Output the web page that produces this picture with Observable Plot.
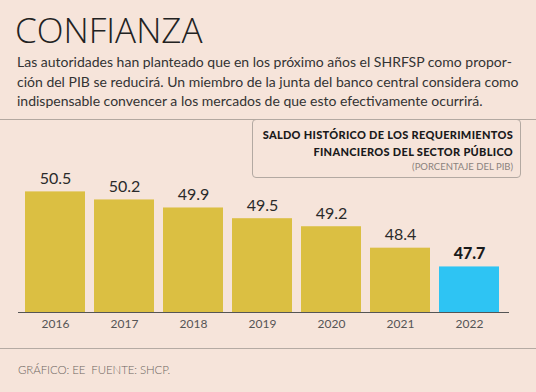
<!DOCTYPE html>
<html>
<head>
<meta charset="utf-8">
<script src="https://cdn.jsdelivr.net/npm/d3@7"></script>
<script src="https://cdn.jsdelivr.net/npm/@observablehq/plot@0.6"></script>
<style>
  html, body { margin: 0; padding: 0; background: #f6e4da; }
  #wrap { position: relative; width: 536px; height: 392px; background: #f6e4da; overflow: hidden; font-family: Lato, "Open Sans", sans-serif; }
  #title { position: absolute; left: 15px; top: 6px; font-family: "Open Sans", sans-serif; font-size: 35px; font-weight: 300; color: #222; letter-spacing: 0px; line-height: 48px; }
  #sub { position: absolute; left: 17px; top: 52px; width: 510px; font-size: 14px; line-height: 19.5px; color: #333; font-weight: 400; }
  #sep1 { position: absolute; left: 0; top: 119px; width: 536px; height: 1px; background: #b3a8a0; }
  #chart { position: absolute; left: 0; top: 118px; }
  #legend { position: absolute; left: 252px; top: 119px; width: 269px; height: 59px; border: 1px solid #b3a9a2; border-radius: 4px; text-align: right; box-sizing: border-box; padding: 7px 7px 0 0; }
  #legend .t { font-size: 11px; font-weight: 900; color: #1a1a1a; line-height: 16.5px; letter-spacing: 0.3px; }
  #legend .s { font-size: 9.5px; color: #8a827d; line-height: 14px; }
  #sep2 { position: absolute; left: 0; top: 348px; width: 536px; height: 1px; background: #b5aaa3; }
  #foot { position: absolute; left: 18px; top: 363px; font-size: 11.5px; color: #6d6560; font-weight: 300; letter-spacing: -0.1px; }
</style>
</head>
<body>
<div id="wrap">
  <div id="title">CONFIANZA</div>
  <div id="sub">Las autoridades han planteado que en los próximo años el SHRFSP como propor­ción del PIB se reducirá. Un miembro de la junta del banco central considera como indispensable convencer a los mercados de que esto efectivamente ocurrirá.</div>
  <div id="sep1"></div>
  <div id="chart"></div>
  <div id="legend">
    <div class="t">SALDO HISTÓRICO DE LOS REQUERIMIENTOS<br>FINANCIEROS DEL SECTOR PÚBLICO</div>
    <div class="s">(PORCENTAJE DEL PIB)</div>
  </div>
  <div id="sep2"></div>
  <div id="foot">GRÁFICO: EE &nbsp;FUENTE: SHCP.</div>
</div>
<script>
const years = ["2016", "2017", "2018", "2019", "2020", "2021", "2022"];
const values = [50.5, 50.2, 49.9, 49.5, 49.2, 48.4, 47.7];
const highlight = "2022";

const data = years.map((y, i) => ({year: y, value: values[i]}));
const normal = data.filter(d => d.year !== highlight);
const hi = data.filter(d => d.year === highlight);

const chart = Plot.plot({
  width: 536,
  height: 222,
  marginLeft: 18,
  marginRight: 27,
  marginTop: 60,
  marginBottom: 28,
  style: {background: "transparent", fontFamily: "Lato, 'Open Sans', sans-serif"},
  x: {domain: years, range: [20.5, 503.5], paddingInner: 0.13, paddingOuter: 0.065, label: null},
  y: {domain: [46, 51], axis: null},
  marks: [
    Plot.barY(data, {x: "year", y1: 46, y2: "value", fill: d => d.year === highlight ? "#2ec4f3" : "#dbbf42"}),
    Plot.ruleY([46], {stroke: "#555", strokeWidth: 1.2}),
    Plot.axisX({tickSize: 0, tickPadding: 7, fontSize: 12, color: "#555"}),
    Plot.text(normal, {x: "year", y: "value", text: d => d.value.toFixed(1), dy: -13, fontSize: 16, fill: "#2a2a2a"}),
    Plot.text(hi, {x: "year", y: "value", text: d => d.value.toFixed(1), dy: -13, fontSize: 16, fill: "#1a1a1a", fontWeight: 900})
  ]
});
document.getElementById("chart").appendChild(chart);
</script>
</body>
</html>
